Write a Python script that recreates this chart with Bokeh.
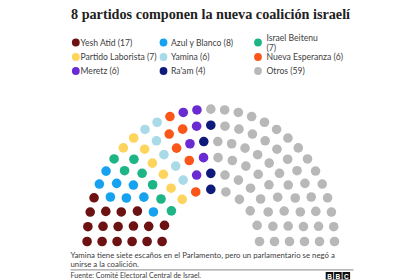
import math
from bokeh.plotting import figure
from bokeh.models import Range1d
from bokeh.core.properties import value
from bokeh.embed import file_html
from bokeh.resources import INLINE

# ---------------- data ----------------
title = "8 partidos componen la nueva coalición israelí"
parties = ["Yesh Atid", "Azul y Blanco", "Israel Beitenu", "Partido Laborista",
           "Yamina", "Nueva Esperanza", "Meretz", "Ra'am", "Otros"]
seats = [17, 8, 7, 7, 6, 6, 6, 4, 59]
colors = ["#6c1212", "#16a2ef", "#1db585", "#fdd45c", "#a8dae8",
          "#fb561a", "#6a2cd2", "#0f1b7a", "#b8b8b8"]
wrap_after_name = ["Israel Beitenu"]
note = ["Yamina tiene siete escaños en el Parlamento, pero un parlamentario se negó a",
        "unirse a la coalición."]
source_text = "Fuente: Comité Electoral Central de Israel."
logo_letters = ["B", "B", "C"]

# ---------------- figure ----------------
W, H = 420, 280
p = figure(width=W, height=H, x_range=Range1d(0, W), y_range=Range1d(H, 0),
           output_backend="svg", toolbar_location=None, min_border=0)
p.axis.visible = False
p.grid.visible = False
p.outline_line_color = None
p.background_fill_color = "white"
p.border_fill_color = "white"

SANS = value("Lato")

# title
p.text(x=[W / 2], y=[13.5], text=[title], text_font=value("Liberation Serif"),
       text_font_style="bold", text_font_size="14.2px", text_color="#222222",
       text_align="center", text_baseline="middle")

# ---------------- hemicycle ----------------
cx, cy = 210.3, 241.0
r_outer, r_inner = 123.7, 48.7
k = 1.07
n_rows = 6
total = sum(seats)
radii = [r_outer - i * (r_outer - r_inner) / (n_rows - 1) for i in range(n_rows)]
counts = [round(total * r / sum(radii)) for r in radii]
counts[0] += total - sum(counts)

seat_list = []
for r, n in zip(radii, counts):
    for j in range(n):
        a = math.pi * j / (n - 1)
        seat_list.append((round(a, 9), r, a))
seat_list.sort(key=lambda t: (t[0], t[1]))

seat_colors = []
for s, c in zip(seats, colors):
    seat_colors += [c] * s

xs = [cx - r * math.cos(a) for _, r, a in seat_list]
ys = [cy - k * r * math.sin(a) for _, r, a in seat_list]
p.scatter(x=xs, y=ys, size=9.6, fill_color=seat_colors, line_color=None)

# ---------------- legend ----------------
col_dot_x = [75.3, 163.0, 257.5]
col_txt_x = [80.0, 170.5, 266.0]
row_y = [42.0, 56.5, 70.5]
lx, ly, lc = [], [], []
tx, ty, tt = [], [], []
for i, (name, s, c) in enumerate(zip(parties, seats, colors)):
    col, row = i % 3, i // 3
    lx.append(col_dot_x[col]); ly.append(row_y[row]); lc.append(c)
    label = f"{name} ({s})"
    if name in wrap_after_name:
        tx += [col_txt_x[col]] * 2
        ty += [row_y[row] - 4.3, row_y[row] + 5.5]
        tt += [name, f"({s})"]
    else:
        tx.append(col_txt_x[col]); ty.append(row_y[row]); tt.append(label)
p.scatter(x=lx, y=ly, size=7.8, fill_color=lc, line_color=None)
p.text(x=tx, y=ty, text=tt, text_font=SANS, text_font_size="8.6px",
       text_color="#404040", text_baseline="middle")

# ---------------- note / source ----------------
p.text(x=[70] * len(note), y=[254.8, 263.2], text=note, text_font=SANS,
       text_font_size="7.8px", text_color="#404040", text_baseline="middle")
p.line(x=[70, 353], y=[269.3, 269.3], line_color="#a0a0a0", line_width=1.2)
p.text(x=[70], y=[275.3], text=[source_text], text_font=SANS,
       text_font_size="7.1px", text_color="#404040", text_baseline="middle")

logo_x = [329.0 + 8.4 * i for i in range(len(logo_letters))]
p.rect(x=logo_x, y=[275.3] * 3, width=7.6, height=7.6, fill_color="#111111",
       line_color=None)
p.text(x=logo_x, y=[275.6] * 3, text=logo_letters, text_font=value("Liberation Sans"),
       text_font_style="bold", text_font_size="6.5px", text_color="white",
       text_align="center", text_baseline="middle")

open("out.html", "w").write(file_html(p, INLINE))
